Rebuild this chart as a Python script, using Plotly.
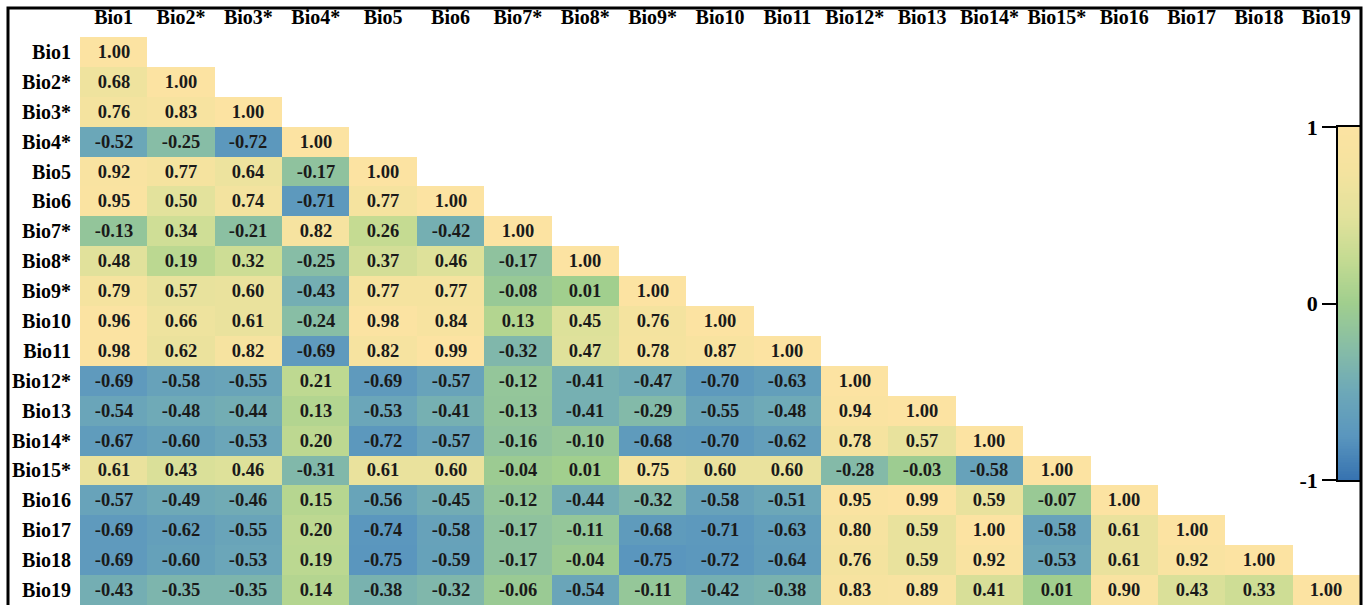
import numpy as np
import plotly.graph_objects as go

labels = ["Bio1", "Bio2*", "Bio3*", "Bio4*", "Bio5", "Bio6", "Bio7*", "Bio8*", "Bio9*",
          "Bio10", "Bio11", "Bio12*", "Bio13", "Bio14*", "Bio15*", "Bio16", "Bio17",
          "Bio18", "Bio19"]

# lower-triangle correlation rows (row i has i+1 values)
corr_rows = [
    [1.00],
    [0.68, 1.00],
    [0.76, 0.83, 1.00],
    [-0.52, -0.25, -0.72, 1.00],
    [0.92, 0.77, 0.64, -0.17, 1.00],
    [0.95, 0.50, 0.74, -0.71, 0.77, 1.00],
    [-0.13, 0.34, -0.21, 0.82, 0.26, -0.42, 1.00],
    [0.48, 0.19, 0.32, -0.25, 0.37, 0.46, -0.17, 1.00],
    [0.79, 0.57, 0.60, -0.43, 0.77, 0.77, -0.08, 0.01, 1.00],
    [0.96, 0.66, 0.61, -0.24, 0.98, 0.84, 0.13, 0.45, 0.76, 1.00],
    [0.98, 0.62, 0.82, -0.69, 0.82, 0.99, -0.32, 0.47, 0.78, 0.87, 1.00],
    [-0.69, -0.58, -0.55, 0.21, -0.69, -0.57, -0.12, -0.41, -0.47, -0.70, -0.63, 1.00],
    [-0.54, -0.48, -0.44, 0.13, -0.53, -0.41, -0.13, -0.41, -0.29, -0.55, -0.48, 0.94, 1.00],
    [-0.67, -0.60, -0.53, 0.20, -0.72, -0.57, -0.16, -0.10, -0.68, -0.70, -0.62, 0.78, 0.57, 1.00],
    [0.61, 0.43, 0.46, -0.31, 0.61, 0.60, -0.04, 0.01, 0.75, 0.60, 0.60, -0.28, -0.03, -0.58, 1.00],
    [-0.57, -0.49, -0.46, 0.15, -0.56, -0.45, -0.12, -0.44, -0.32, -0.58, -0.51, 0.95, 0.99, 0.59, -0.07, 1.00],
    [-0.69, -0.62, -0.55, 0.20, -0.74, -0.58, -0.17, -0.11, -0.68, -0.71, -0.63, 0.80, 0.59, 1.00, -0.58, 0.61, 1.00],
    [-0.69, -0.60, -0.53, 0.19, -0.75, -0.59, -0.17, -0.04, -0.75, -0.72, -0.64, 0.76, 0.59, 0.92, -0.53, 0.61, 0.92, 1.00],
    [-0.43, -0.35, -0.35, 0.14, -0.38, -0.32, -0.06, -0.54, -0.11, -0.42, -0.38, 0.83, 0.89, 0.41, 0.01, 0.90, 0.43, 0.33, 1.00],
]

colorbar_ticks = [-1, 0, 1]
colorbar_ticktext = ["-1", "0", "1"]

n = len(labels)
z = [[(row[j] if j < len(row) else None) for j in range(n)] for row in corr_rows]
text = [[(f"{row[j]:.2f}" if j < len(row) else "") for j in range(n)] for row in corr_rows]

cscale = [
    [0.0, "#3672B0"],
    [0.125, "#5A96BE"],
    [0.25, "#6DA8B8"],
    [0.375, "#87BDA6"],
    [0.5, "#A0CE8E"],
    [0.625, "#C4DB92"],
    [0.75, "#E3E29C"],
    [0.875, "#F4E39F"],
    [1.0, "#FCE3A2"],
]

FONT = "Liberation Serif, Times New Roman, serif"

fig = go.Figure()
fig.add_trace(go.Heatmap(
    z=z, x=labels, y=labels, text=text,
    texttemplate="<b>%{text}</b>",
    textfont=dict(family=FONT, size=18.5, color="#1a1a1a"),
    colorscale=cscale, zmin=-1, zmax=1, showscale=False,
    hoverongaps=False,
))

# colour bar drawn as a gradient heatmap on its own axes
grad = np.linspace(-1, 1, 201)
fig.add_trace(go.Heatmap(
    z=[[v] for v in grad], x=[0], y=grad,
    colorscale=cscale, zmin=-1, zmax=1, showscale=False,
    xaxis="x2", yaxis="y2", hoverinfo="skip",
))

W, H = 1369, 605
ml, mr, mt, mb = 80, 9, 37, 0
pw, ph = W - ml - mr, H - mt - mb

def px_x(x):
    return (x - ml) / pw

def px_y(y):
    return (H - mb - y) / ph

fig.update_layout(
    width=W, height=H,
    margin=dict(l=ml, r=mr, t=mt, b=mb, autoexpand=False),
    paper_bgcolor="white", plot_bgcolor="white",
    font=dict(family=FONT, color="black"),
    xaxis=dict(side="top", showgrid=False, zeroline=False, showline=False, automargin=False,
               ticks="", tickfont=dict(family=FONT, size=20, color="black", weight="bold"),
               ticklabelstandoff=8, domain=[0, 1]),
    yaxis=dict(autorange="reversed", showgrid=False, zeroline=False, showline=False, automargin=False,
               ticks="", tickfont=dict(family=FONT, size=20, color="black", weight="bold"),
               ticklabelstandoff=8, domain=[0, 1]),
    xaxis2=dict(domain=[px_x(1338), px_x(1360)], anchor="y2", showticklabels=False, automargin=False,
                ticks="", showgrid=False, zeroline=False, showline=True, mirror=True,
                linecolor="black", linewidth=1.5, range=[-0.5, 0.5]),
    yaxis2=dict(domain=[px_y(480), px_y(127)], anchor="x2", side="left", automargin=False,
                range=[-1, 1], tickvals=colorbar_ticks, ticktext=colorbar_ticktext,
                ticks="outside", ticklen=14, tickwidth=1.5, tickcolor="black",
                tickfont=dict(family=FONT, size=22, color="black", weight="bold"),
                showgrid=False, zeroline=False, showline=True, mirror=True,
                linecolor="black", linewidth=1.5),
    shapes=[dict(type="rect", xref="paper", yref="paper",
                 x0=px_x(8), x1=px_x(1361), y0=px_y(615), y1=px_y(8),
                 line=dict(color="black", width=3), fillcolor="rgba(0,0,0,0)", layer="above")],
)

fig.write_html("out.html", config={"displayModeBar": False},
               post_script="document.body.style.margin='0';document.body.style.overflow='hidden';")
